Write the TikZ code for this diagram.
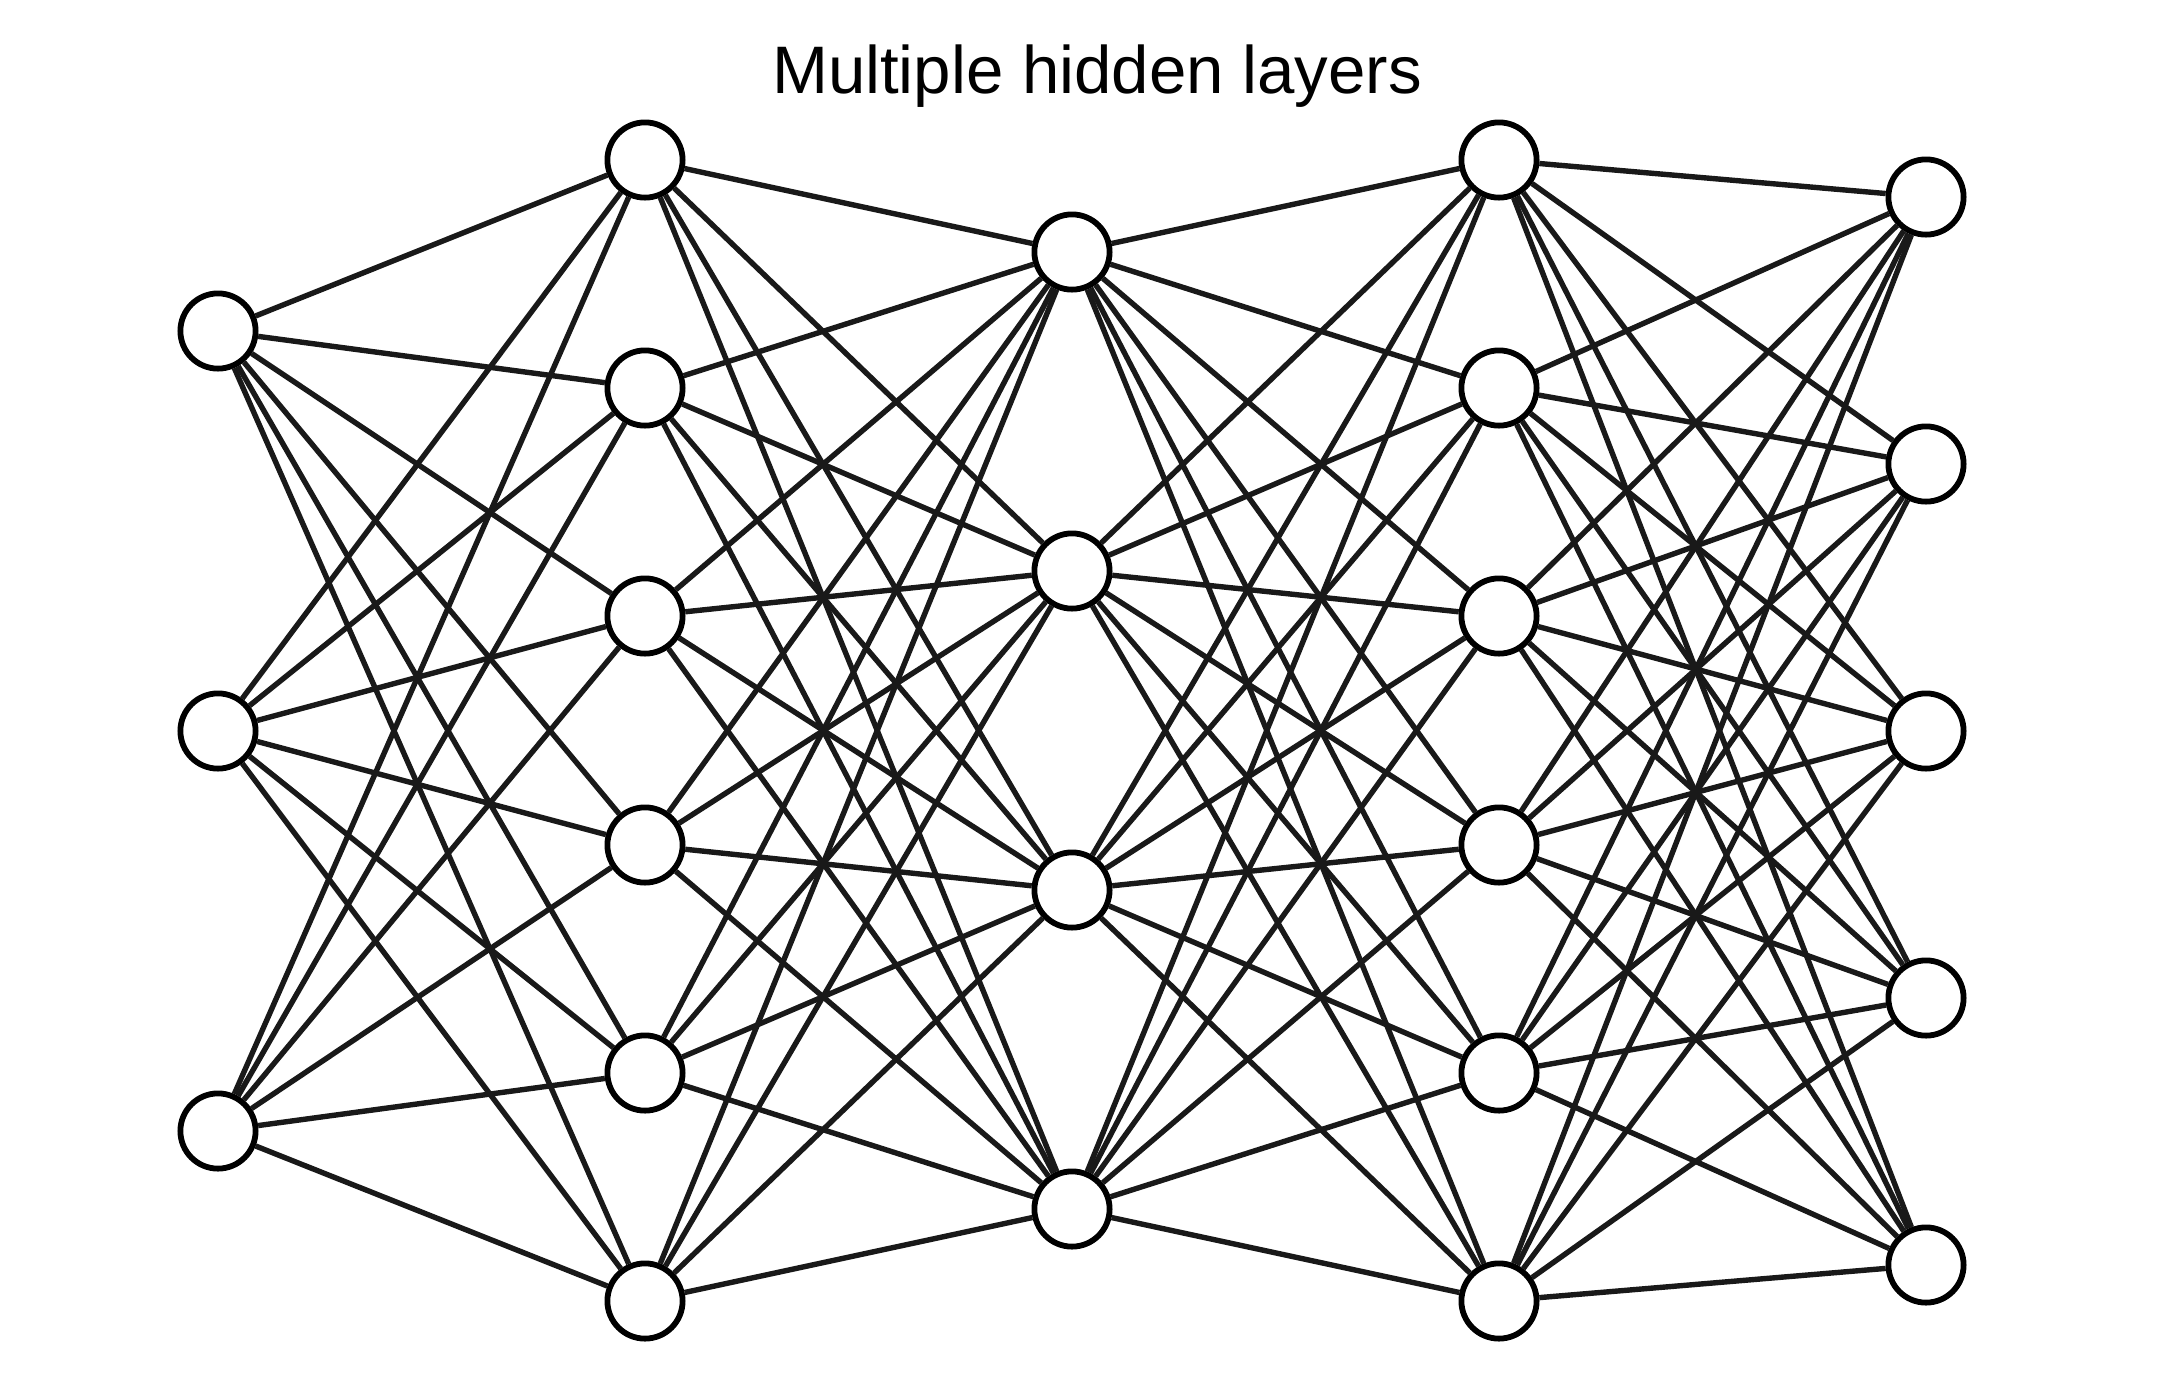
\documentclass[tikz,border=0pt]{standalone}
\usepackage{fontspec}
\setmainfont{Liberation Sans}
\usetikzlibrary{backgrounds}
\tikzstyle{neuron} = [circle, minimum size=18.8pt, inner sep=0pt, draw=black, line width=1.45pt, fill=white]
\tikzstyle{conn} = [line width=1.35pt, draw=black!90]
\tikzstyle{heading} = [anchor=base, font=\fontsize{16.8pt}{20pt}\selectfont]

\begin{document}
\begin{tikzpicture}[x=0.25pt, y=-0.25pt]
\useasboundingbox (0,0) rectangle (2176,1384);

\node (title) [heading] at (1097,93) {Multiple hidden layers};

% input layer
\node (in1) [neuron] at (218,331) {};
\node (in2) [neuron] at (218,731) {};
\node (in3) [neuron] at (218,1131) {};

% first hidden layer
\node (ha1) [neuron] at (645,160) {};
\node (ha2) [neuron] at (645,388) {};
\node (ha3) [neuron] at (645,616) {};
\node (ha4) [neuron] at (645,845) {};
\node (ha5) [neuron] at (645,1073) {};
\node (ha6) [neuron] at (645,1301) {};

% second hidden layer
\node (hb1) [neuron] at (1072,252) {};
\node (hb2) [neuron] at (1072,571) {};
\node (hb3) [neuron] at (1072,890) {};
\node (hb4) [neuron] at (1072,1209) {};

% third hidden layer
\node (hc1) [neuron] at (1499,160) {};
\node (hc2) [neuron] at (1499,388) {};
\node (hc3) [neuron] at (1499,616) {};
\node (hc4) [neuron] at (1499,845) {};
\node (hc5) [neuron] at (1499,1073) {};
\node (hc6) [neuron] at (1499,1301) {};

% output layer
\node (out1) [neuron] at (1926,197) {};
\node (out2) [neuron] at (1926,464) {};
\node (out3) [neuron] at (1926,731) {};
\node (out4) [neuron] at (1926,998) {};
\node (out5) [neuron] at (1926,1265) {};

\begin{pgfonlayer}{background}
\foreach \i in {1,...,3} \foreach \j in {1,...,6} \draw [conn] (in\i) -- (ha\j);
\foreach \i in {1,...,6} \foreach \j in {1,...,4} \draw [conn] (ha\i) -- (hb\j);
\foreach \i in {1,...,4} \foreach \j in {1,...,6} \draw [conn] (hb\i) -- (hc\j);
\foreach \i in {1,...,6} \foreach \j in {1,...,5} \draw [conn] (hc\i) -- (out\j);
\end{pgfonlayer}

\end{tikzpicture}
\end{document}
